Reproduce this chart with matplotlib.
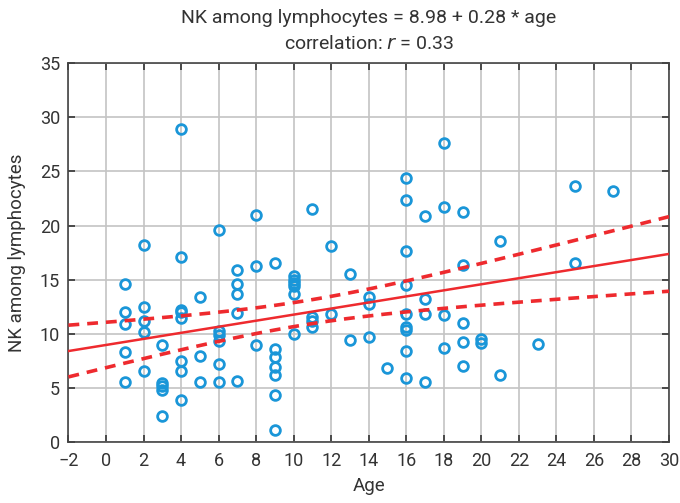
import matplotlib
matplotlib.use("Agg")
import matplotlib.pyplot as plt
import numpy as np

# data
ages = [1, 1, 1, 1, 1,
        2, 2, 2, 2, 2,
        3, 3, 3, 3, 3,
        4, 4, 4, 4, 4, 4, 4, 4,
        5, 5, 5,
        6, 6, 6, 6, 6, 6,
        7, 7, 7, 7, 7,
        8, 8, 8,
        9, 9, 9, 9, 9, 9, 9,
        10, 10, 10, 10, 10, 10,
        11, 11, 11, 11,
        12, 12,
        13, 13,
        14, 14, 14,
        15,
        16, 16, 16, 16, 16, 16, 16, 16, 16,
        17, 17, 17, 17,
        18, 18, 18, 18,
        19, 19, 19, 19, 19,
        20, 20,
        21, 21,
        23,
        25, 25,
        27]
nk = [14.65, 12.0, 10.95, 8.33, 5.56,
      18.2, 12.46, 11.17, 10.15, 6.54,
      9.0, 5.5, 5.2, 4.85, 2.46,
      28.9, 17.1, 12.25, 12.0, 11.45, 7.46, 6.6, 3.9,
      13.4, 8.0, 5.6,
      19.56, 10.25, 9.93, 9.3, 7.2, 5.55,
      15.9, 14.56, 13.7, 11.94, 5.7,
      20.98, 16.3, 9.0,
      16.57, 8.58, 7.85, 6.98, 6.18, 4.32, 1.1,
      15.3, 15.0, 14.7, 14.4, 13.64, 10.0,
      21.5, 11.6, 11.2, 10.6,
      18.08, 11.8,
      15.55, 9.47,
      13.4, 12.8, 9.72,
      6.85,
      24.35, 22.4, 17.68, 14.47, 11.8, 10.65, 10.4, 8.45, 5.9,
      20.86, 13.2, 11.8, 5.55,
      27.6, 21.7, 11.7, 8.7,
      21.26, 16.35, 11.0, 9.22, 7.0,
      9.5, 9.2,
      18.57, 6.17,
      9.1,
      23.67, 16.5,
      23.2]

intercept = 8.98
slope = 0.28
r_value = 0.33

x_ticks = list(range(-2, 31, 2))
y_ticks = list(range(0, 36, 5))

blue = '#1a96d8'
red = '#ee2a2e'

plt.rcParams['font.family'] = ['Roboto', 'DejaVu Sans']

fig = plt.figure(figsize=(6.8, 5.03), dpi=100)
ax = fig.add_axes([0.1007, 0.1207, 0.8831, 0.7541])

x = np.array(ages, dtype=float)
y = np.array(nk, dtype=float)

# regression line and 95% confidence band of the mean
xs = np.linspace(-2, 30, 200)
fit = intercept + slope * xs
n = len(x)
resid = y - (intercept + slope * x)
s = np.sqrt(np.sum(resid ** 2) / (n - 2))
sxx = np.sum((x - x.mean()) ** 2)
half = 1.98 * s * np.sqrt(1.0 / n + (xs - x.mean()) ** 2 / sxx)

ax.plot(x, y, 'o', markerfacecolor='none', markeredgecolor=blue,
        markersize=7, markeredgewidth=2, zorder=3)
ax.plot(xs, fit, color=red, linewidth=1.8, zorder=4)
ax.plot(xs, fit + half, color=red, linewidth=2.6, linestyle=(0, (3, 2.2)), zorder=4)
ax.plot(xs, fit - half, color=red, linewidth=2.6, linestyle=(0, (3, 2.2)), zorder=4)

ax.set_xlim(-2, 30)
ax.set_ylim(0, 35)
ax.set_xticks(x_ticks)
ax.set_yticks(y_ticks)
ax.grid(True, color='#c4c4c4', linewidth=1.2)
ax.set_axisbelow(True)
ax.tick_params(direction='in', length=5, width=1.2, color='#333333',
               labelsize=13, labelcolor='#333333', top=True, right=True)
ax.tick_params(axis='x', pad=7)
ax.tick_params(axis='y', pad=6)
for sp in ax.spines.values():
    sp.set_color('#444444')
    sp.set_linewidth(1.2)

ax.set_xlabel('Age', fontsize=13.5, color='#333333', labelpad=5)
ax.set_ylabel('NK among lymphocytes', fontsize=13.5, color='#333333', labelpad=10)
ax.set_title('NK among lymphocytes = %.2f + %.2f * age\ncorrelation: $\\it{r}$ = %.2f'
             % (intercept, slope, r_value),
             fontsize=14, color='#333333', linespacing=1.6, pad=10)

fig.savefig('out.png', dpi=100)
